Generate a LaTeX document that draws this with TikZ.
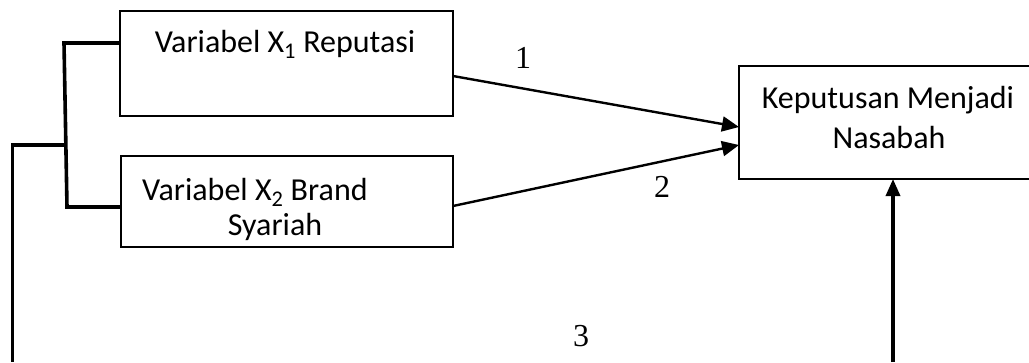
\documentclass[tikz,border=0pt]{standalone}
\usepackage{fontspec}
\setmainfont{Carlito}
\newfontfamily\numfont{Liberation Serif}
\usetikzlibrary{arrows.meta}
\begin{document}
\begin{tikzpicture}[x=1pt,y=-1pt,
  box/.style={draw,line width=1.6pt,inner sep=0pt},
  boxtext/.style={font=\fontsize{32}{38}\selectfont,inner sep=0pt},
  numlabel/.style={font=\fontsize{32}{36}\numfont,inner sep=0pt},
  arrowline/.style={line width=2.4pt,-{Triangle[length=17pt,width=15pt]}},
  bracket/.style={line width=3.6pt}]
\useasboundingbox (0,0) rectangle (1029,362);
\fill[white] (0,0) rectangle (1029,362);
% boxes
\node[box,minimum width=333pt,minimum height=105pt] (b1) at (286.5,63.5) {};
\node[box,minimum width=332pt,minimum height=91pt] (b2) at (287,201.5) {};
\node[box,minimum width=301pt,minimum height=113pt] (b3) at (889.5,122.5) {};
% texts
\node[boxtext] (t1) at (285,44) {Variabel X\textsubscript{1} Reputasi};
\node[boxtext,anchor=west] (t2a) at (142,192) {Variabel X\textsubscript{2} Brand};
\node[boxtext] (t2b) at (275,227) {Syariah};
\node[boxtext] (t3a) at (888,100) {Keputusan Menjadi};
\node[boxtext] (t3b) at (889,138) {Nasabah};
% numbers
\node[numlabel] (n1) at (523,58) {1};
\node[numlabel] (n2) at (662,187) {2};
\node[numlabel] (n3) at (581,336) {3};
% arrows
\coordinate (a1s) at (453,76);
\coordinate (a1e) at (739,127);
\coordinate (a2s) at (453,206);
\coordinate (a2e) at (739,145);
\draw[arrowline] (a1s) -- (a1e);
\draw[arrowline] (a2s) -- (a2e);
\coordinate (up) at (893,362);
\draw[line width=3.4pt,-{Triangle[length=17pt,width=14pt]}] (up) -- (893,179);
% bracket
\coordinate (bt) at (64,43);
\coordinate (bb) at (67,207);
\coordinate (bm) at (65.5,145);
\coordinate (lb) at (12.5,362);
\draw[bracket] (b1.west |- bt) -- (bt) -- (bb) -- (b2.west |- bb);
\draw[bracket] (bm) -- (12.5,145) -- (lb);
\end{tikzpicture}
\end{document}
